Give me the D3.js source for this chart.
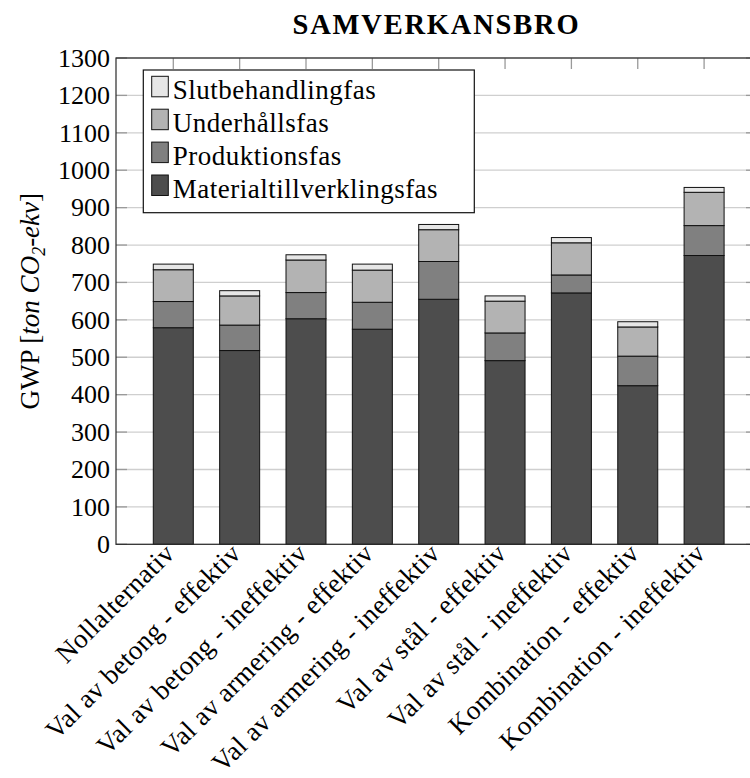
<!DOCTYPE html>
<html>
<head>
<meta charset="utf-8">
<script src="https://cdn.jsdelivr.net/npm/d3@7"></script>
<style>
  html, body { margin: 0; padding: 0; background: #fff; }
  svg { display: block; }
  text { font-family: "Liberation Serif", "Times New Roman", serif; fill: #000; }
</style>
</head>
<body>
<svg id="chart" width="750" height="778"></svg>
<script>
// Global warming potential per life-cycle phase for each bridge alternative
const categories = [
  "Nollalternativ",
  "Val av betong - effektiv",
  "Val av betong - ineffektiv",
  "Val av armering - effektiv",
  "Val av armering - ineffektiv",
  "Val av stål - effektiv",
  "Val av stål - ineffektiv",
  "Kombination - effektiv",
  "Kombination - ineffektiv"
];
const materialtillverkning = [579, 518, 603, 575, 655, 491, 672, 424, 772];
const produktion           = [70, 68, 70, 72, 101, 74, 48, 79, 80];
const underhall            = [85, 78, 87, 86, 85, 85, 86, 78, 89];
const slutbehandling       = [15, 14, 14, 16, 14, 14, 14, 14, 13];

const seriesNames = ["Materialtillverklingsfas", "Produktionsfas", "Underhållsfas", "Slutbehandlingfas"];
const seriesColors = ["#4d4d4d", "#808080", "#b3b3b3", "#e6e6e6"];
const yTicks = [0, 100, 200, 300, 400, 500, 600, 700, 800, 900, 1000, 1100, 1200, 1300];

const rows = categories.map((c, i) => ({
  cat: c,
  [seriesNames[0]]: materialtillverkning[i],
  [seriesNames[1]]: produktion[i],
  [seriesNames[2]]: underhall[i],
  [seriesNames[3]]: slutbehandling[i]
}));
const stacked = d3.stack().keys(seriesNames)(rows);

const svg = d3.select("#chart");
const serif = '"Liberation Serif", "Times New Roman", serif';
const frame = { left: 116, right: 757, top: 58, bottom: 544.3 };
const barWidth = 40;
const tickLen = 11;

const x = d3.scalePoint().domain(categories).range([173.3, 704.1]);
const y = d3.scaleLinear().domain([0, 1300]).range([frame.bottom, frame.top]);

// horizontal grid
svg.append("g").selectAll("line").data(yTicks).join("line")
  .attr("x1", frame.left).attr("x2", frame.right)
  .attr("y1", d => y(d)).attr("y2", d => y(d))
  .attr("stroke", "#cfcfcf").attr("stroke-width", 1.3);

// inward tick marks: left, right and top
const tickColor = "#9a9a9a";
svg.append("g").selectAll("line").data(yTicks).join("line")
  .attr("x1", frame.left).attr("x2", frame.left + tickLen)
  .attr("y1", d => y(d)).attr("y2", d => y(d))
  .attr("stroke", tickColor).attr("stroke-width", 1.3);
svg.append("g").selectAll("line").data(yTicks).join("line")
  .attr("x1", frame.right - tickLen).attr("x2", frame.right)
  .attr("y1", d => y(d)).attr("y2", d => y(d))
  .attr("stroke", tickColor).attr("stroke-width", 1.3);
svg.append("g").selectAll("line").data(categories).join("line")
  .attr("x1", d => x(d)).attr("x2", d => x(d))
  .attr("y1", frame.top).attr("y2", frame.top + tickLen)
  .attr("stroke", tickColor).attr("stroke-width", 1.3);

// stacked bars
const layers = svg.append("g").selectAll("g").data(stacked).join("g")
  .attr("fill", (d, i) => seriesColors[i]);
layers.selectAll("rect").data(d => d).join("rect")
  .attr("x", d => x(d.data.cat) - barWidth / 2)
  .attr("width", barWidth)
  .attr("y", d => y(d[1]))
  .attr("height", d => y(d[0]) - y(d[1]))
  .attr("stroke", "#111").attr("stroke-width", 1);

// plot frame
svg.append("rect")
  .attr("x", frame.left).attr("y", frame.top)
  .attr("width", frame.right - frame.left).attr("height", frame.bottom - frame.top)
  .attr("fill", "none").attr("stroke", "#2a2a2a").attr("stroke-width", 1.2);

// y tick labels
const yAxis = d3.axisLeft(y).tickValues(yTicks).tickFormat(d3.format("d")).tickSize(0).tickPadding(6);
const gy = svg.append("g").attr("transform", `translate(${frame.left},0)`).call(yAxis)
  .attr("font-family", serif).attr("font-size", 26);
gy.select(".domain").remove();
gy.selectAll("text").attr("fill", "#000");

// rotated category labels
svg.append("g").selectAll("text").data(categories).join("text")
  .attr("transform", d => `translate(${x(d) - 4},${frame.bottom + 4}) rotate(-45)`)
  .attr("text-anchor", "end")
  .attr("dy", "0.35em")
  .style("font-size", "27px")
  .style("letter-spacing", "0.35px")
  .text(d => d);

// title
svg.append("text")
  .attr("x", (frame.left + frame.right) / 2).attr("y", 34)
  .attr("text-anchor", "middle")
  .style("font-size", "28.5px").style("font-weight", "bold")
  .style("letter-spacing", "1.8px")
  .text("SAMVERKANSBRO");

// y axis title
const yl = svg.append("text")
  .attr("transform", `translate(39,${(frame.top + frame.bottom) / 2}) rotate(-90)`)
  .attr("text-anchor", "middle")
  .style("font-size", "27px");
yl.append("tspan").text("GWP [");
yl.append("tspan").style("font-style", "italic").text("ton CO");
yl.append("tspan").style("font-style", "italic").style("font-size", "18px").attr("dy", 6).text("2");
yl.append("tspan").style("font-style", "italic").attr("dy", -6).text("-ekv");
yl.append("tspan").text("]");

// legend
const legend = svg.append("g");
legend.append("rect")
  .attr("x", 143.3).attr("y", 70)
  .attr("width", 331).attr("height", 142.7)
  .attr("fill", "#fff").attr("stroke", "#111").attr("stroke-width", 1.2);
const legendOrder = [3, 2, 1, 0];
const items = legend.selectAll("g.item").data(legendOrder).join("g")
  .attr("class", "item")
  .attr("transform", (d, i) => `translate(0,${i * 32.9})`);
items.append("rect")
  .attr("x", 151.7).attr("y", 76.3)
  .attr("width", 16.6).attr("height", 20.5)
  .attr("fill", d => seriesColors[d])
  .attr("stroke", "#111").attr("stroke-width", 1);
items.append("text")
  .attr("x", 172.7).attr("y", 99.3)
  .style("font-size", "27px")
  .style("letter-spacing", "0.5px")
  .text(d => seriesNames[d]);
</script>
</body>
</html>
